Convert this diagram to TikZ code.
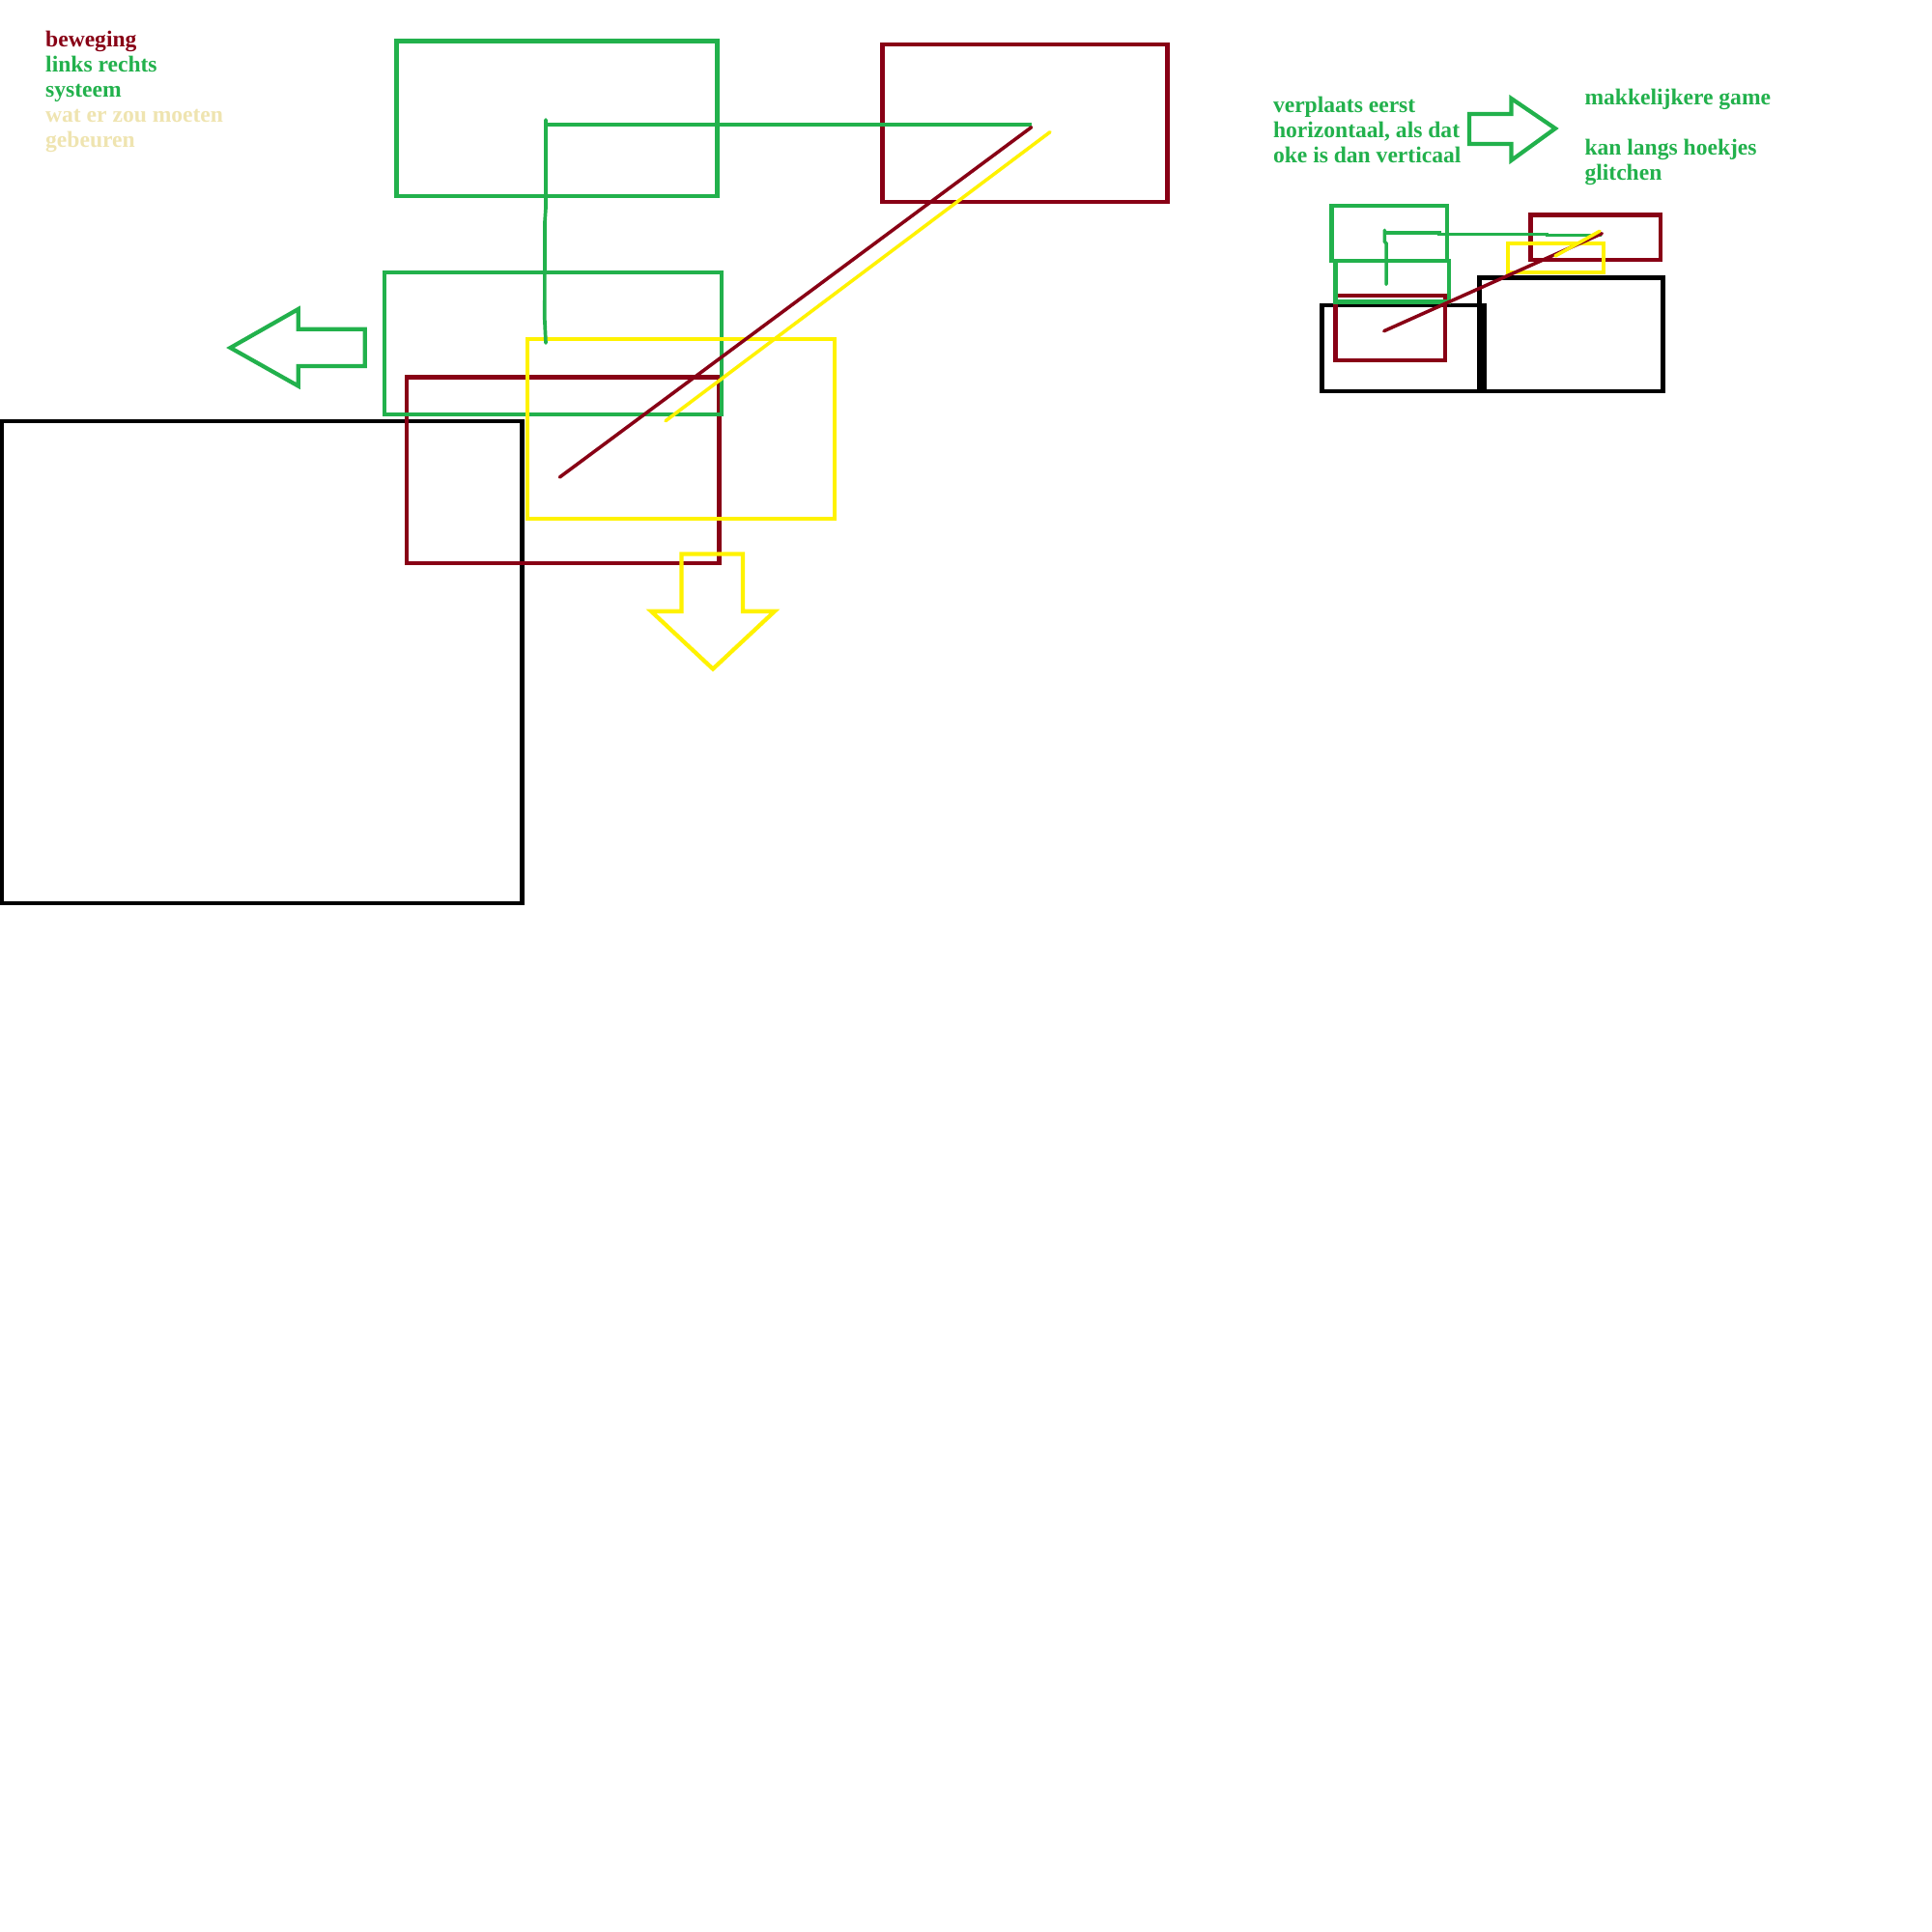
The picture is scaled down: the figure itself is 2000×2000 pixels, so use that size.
\documentclass[tikz,border=0pt]{standalone}
\usepackage{fontspec}
\setmainfont{Liberation Serif}
\definecolor{pdred}{RGB}{136,0,21}
\definecolor{pgreen}{RGB}{34,177,76}
\definecolor{pyellow}{RGB}{255,242,0}
\definecolor{ptan}{RGB}{239,228,176}
\begin{document}
\begin{tikzpicture}[x=0.01cm,y=-0.01cm,
  lw/.style={line width=1.2pt},
  redline/.style={draw=pdred,lw},
  greenline/.style={draw=pgreen,lw},
  yellowline/.style={draw=pyellow,lw},
  blackline/.style={draw=black,line width=1.2pt},
  thinline/.style={line width=1.0pt,line cap=round},
  txt/.style={anchor=base west,inner sep=0pt,font=\bfseries\fontsize{6.7pt}{7.4pt}\selectfont}]
\useasboundingbox[fill=white] (0,0) rectangle (2000,2000);

% ---- left texts
\node[txt,text=pdred]  (t1) at (46.5,48.5) {beweging};
\node[txt,text=pgreen] (t2) at (46.5,74.5) {links rechts};
\node[txt,text=pgreen] (t3) at (46.5,100.5) {systeem};
\node[txt,text=ptan]   (t4) at (46.5,126.5) {wat er zou moeten};
\node[txt,text=ptan]   (t5) at (46.5,152.5) {gebeuren};

% ---- main drawing
\draw[blackline] (2,436) rectangle (540.5,935);
\draw[redline] (420.9,390.5) rectangle (744.5,583);
\draw[greenline] (410.6,42.5) rectangle (742.5,203);
\draw[greenline] (398,282.3) rectangle (746.8,429.3);
\draw[redline] (913.5,46.3) rectangle (1208.5,209);
\draw[yellowline] (546,351) rectangle (863.6,537.2);

% green path
\draw[pgreen,thinline,line width=1.05pt] (565,355) -- (563.8,330) -- (564,230) -- (565,215) -- (565,124);
\draw[pgreen,line width=1.1pt] (565,129.3) -- (1067.5,129.3);
% diagonals
\draw[pdred,thinline] (579.4,494) -- (1067.7,131.7);
\draw[pyellow,thinline] (689,435.7) -- (1087,136.7);

% green left arrow
\draw[greenline,line join=miter] (238.5,360) -- (308.8,320) -- (308.8,340.7) -- (377.8,340.7)
  -- (377.8,379) -- (308.8,379) -- (308.8,399.6) -- cycle;
% yellow down arrow
\draw[yellowline,line join=miter] (705.5,573.5) -- (769,573.5) -- (769,632.7) -- (802,632.7)
  -- (738,692.5) -- (674,632.7) -- (705.5,632.7) -- cycle;

% ---- right texts
\node[txt,text=pgreen] (r1) at (1317.3,116.5) {verplaats eerst};
\node[txt,text=pgreen] (r2) at (1317.3,142.5) {horizontaal, als dat};
\node[txt,text=pgreen] (r3) at (1317.3,168.5) {oke is dan verticaal};
\node[txt,text=pgreen] (r4) at (1639.8,109) {makkelijkere game};
\node[txt,text=pgreen] (r5) at (1639.8,161) {kan langs hoekjes};
\node[txt,text=pgreen] (r6) at (1639.8,187) {glitchen};

% green right arrow
\draw[greenline,line join=miter] (1521,118) -- (1564.5,118) -- (1564.5,102) -- (1610,133)
  -- (1564.5,166) -- (1564.5,149) -- (1521,149) -- cycle;

% ---- small drawing
\draw[blackline,line width=1.3pt] (1368.5,316) rectangle (1536.5,405);
\draw[blackline,line width=1.3pt] (1531.5,287.5) rectangle (1721.5,405);
\draw[redline] (1382.5,306) rectangle (1496,373.3);
\draw[greenline] (1378.5,212.7) rectangle (1498.3,270);
\draw[greenline] (1382.5,270) rectangle (1500,312.5);
\draw[redline] (1584.5,222.5) rectangle (1719,269);
\draw[yellowline] (1561,251.7) rectangle (1660,282.3);

\draw[pgreen,thinline] (1435,294.3) -- (1435,252) -- (1433.3,250) -- (1433.3,238.3);
\draw[pgreen,line width=1.0pt] (1433.3,241) -- (1490,241) -- (1490,242.3) -- (1601.7,242.3) -- (1601.7,243.3) -- (1658.3,243.3);
\draw[pdred,thinline] (1432.7,342.7) -- (1658.3,241.7);
\draw[pyellow,thinline] (1610,265) -- (1656,239.3);
\end{tikzpicture}
\end{document}
